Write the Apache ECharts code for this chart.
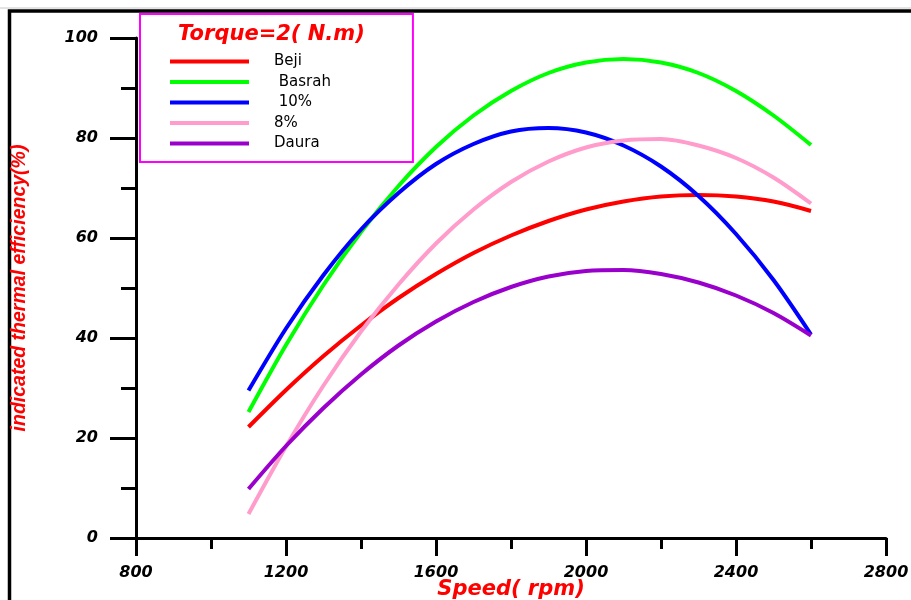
<!DOCTYPE html>
<html>
<head>
<meta charset="utf-8">
<script src="https://cdn.jsdelivr.net/npm/echarts@6/dist/echarts.min.js"></script>
<style>html,body{margin:0;padding:0;background:#fff;overflow:hidden;}#c{width:911px;height:600px;}</style>
</head>
<body>
<div id="c"></div>
<script>
// Speed (rpm) sample points
var speed = [1100, 1200, 1300, 1400, 1500, 1600, 1700, 1800, 1900, 2000, 2100, 2200, 2300, 2400, 2500, 2600];
var beji   = [22.2, 29.6, 36.4, 42.5, 48.0, 52.8, 57.0, 60.5, 63.4, 65.7, 67.3, 68.3, 68.6, 68.3, 67.3, 65.4];
var basrah = [25.2, 38.6, 50.6, 61.2, 70.4, 78.2, 84.5, 89.4, 93.0, 95.1, 95.8, 95.1, 93.0, 89.4, 84.5, 78.6];
var pct10  = [29.5, 41.9, 52.6, 61.7, 69.0, 74.8, 78.8, 81.3, 82.0, 81.1, 78.5, 74.3, 68.4, 60.8, 51.6, 40.7];
var pct8   = [4.8, 18.3, 30.5, 41.3, 50.7, 58.9, 65.7, 71.2, 75.3, 78.1, 79.5, 79.8, 78.5, 76.0, 72.1, 66.9];
var daura  = [9.8, 18.4, 26.0, 32.7, 38.5, 43.3, 47.2, 50.2, 52.3, 53.4, 53.6, 52.8, 51.1, 48.5, 45.0, 40.5];
var seriesNames = ['Beji', ' Basrah', ' 10%', '8%', 'Daura'];
var seriesColors = ['#ff0000', '#00ff00', '#0000ff', '#ff9ccc', '#9900cc'];
var seriesValues = [beji, basrah, pct10, pct8, daura];

function pairs(vals) {
  return speed.map(function (s, i) { return [s, vals[i]]; });
}

var chart = echarts.init(document.getElementById('c'), null, {renderer: 'canvas'});
var labelFont = {color: '#000', fontFamily: 'DejaVu Sans', fontWeight: 'bold', fontStyle: 'italic', fontSize: 16};
function plain(v) { return String(v); }

chart.setOption({
  animation: false,
  backgroundColor: '#fff',
  title: {
    text: 'Torque=2( N.m)',
    left: 178,
    top: 24,
    padding: 0,
    textStyle: {color: '#ff0000', fontFamily: 'DejaVu Sans', fontWeight: 'bold', fontStyle: 'italic', fontSize: 21}
  },
  legend: {
    orient: 'vertical',
    left: 140,
    top: 14,
    padding: [40, 82, 11, 30],
    borderColor: '#ff00ff',
    borderWidth: 2,
    itemWidth: 79,
    itemHeight: 14,
    itemGap: 5.5,
    icon: 'path://M0,0L80,0L80,4L0,4Z',
    textStyle: {color: '#000', fontFamily: 'DejaVu Sans', fontSize: 15, padding: [0, 0, 0, 20]},
    data: seriesNames
  },
  grid: {left: 136, top: 38, right: 25, bottom: 62, containLabel: false, outerBoundsMode: 'none'},
  xAxis: {
    type: 'value',
    min: 800, max: 2800, interval: 400,
    name: 'Speed( rpm)',
    nameLocation: 'middle',
    nameGap: 41,
    nameMoveOverlap: false,
    nameTextStyle: {color: '#ff0000', fontFamily: 'DejaVu Sans', fontWeight: 'bold', fontStyle: 'italic', fontSize: 21},
    axisLine: {show: true, onZero: false, lineStyle: {color: '#000', width: 3}},
    axisTick: {show: true, length: 18, lineStyle: {color: '#000', width: 3}},
    minorTick: {show: true, splitNumber: 2, length: 11, lineStyle: {color: '#000', width: 3}},
    axisLabel: Object.assign({margin: 27, showMaxLabel: true, showMinLabel: true, hideOverlap: false, formatter: plain}, labelFont),
    splitLine: {show: false}
  },
  yAxis: {
    type: 'value',
    min: 0, max: 100, interval: 20,
    name: 'indicated thermal efficiency(%)',
    nameLocation: 'middle',
    nameGap: 106,
    nameRotate: 90,
    nameMoveOverlap: false,
    nameTextStyle: {color: '#ff0000', fontFamily: 'Liberation Sans', fontWeight: 'bold', fontStyle: 'italic', fontSize: 19.5},
    axisLine: {show: true, onZero: false, lineStyle: {color: '#000', width: 3}},
    axisTick: {show: true, length: 26, lineStyle: {color: '#000', width: 3}},
    minorTick: {show: true, splitNumber: 2, length: 15, lineStyle: {color: '#000', width: 3}},
    axisLabel: Object.assign({margin: 38, formatter: plain}, labelFont),
    splitLine: {show: false}
  },
  graphic: [
    {type: 'line', silent: true, shape: {x1: 0, y1: 8, x2: 911, y2: 8}, style: {stroke: '#c8c8c8', lineWidth: 1}},
    {type: 'rect', silent: true, shape: {x: 9.5, y: 11, width: 1000, height: 700}, style: {fill: 'none', stroke: '#000', lineWidth: 3.5}}
  ],
  series: seriesNames.map(function (n, i) {
    return {
      name: n,
      type: 'line',
      smooth: 0.3,
      showSymbol: false,
      symbol: 'none',
      color: seriesColors[i],
      lineStyle: {width: 4, color: seriesColors[i]},
      data: pairs(seriesValues[i])
    };
  })
});
</script>
</body>
</html>
